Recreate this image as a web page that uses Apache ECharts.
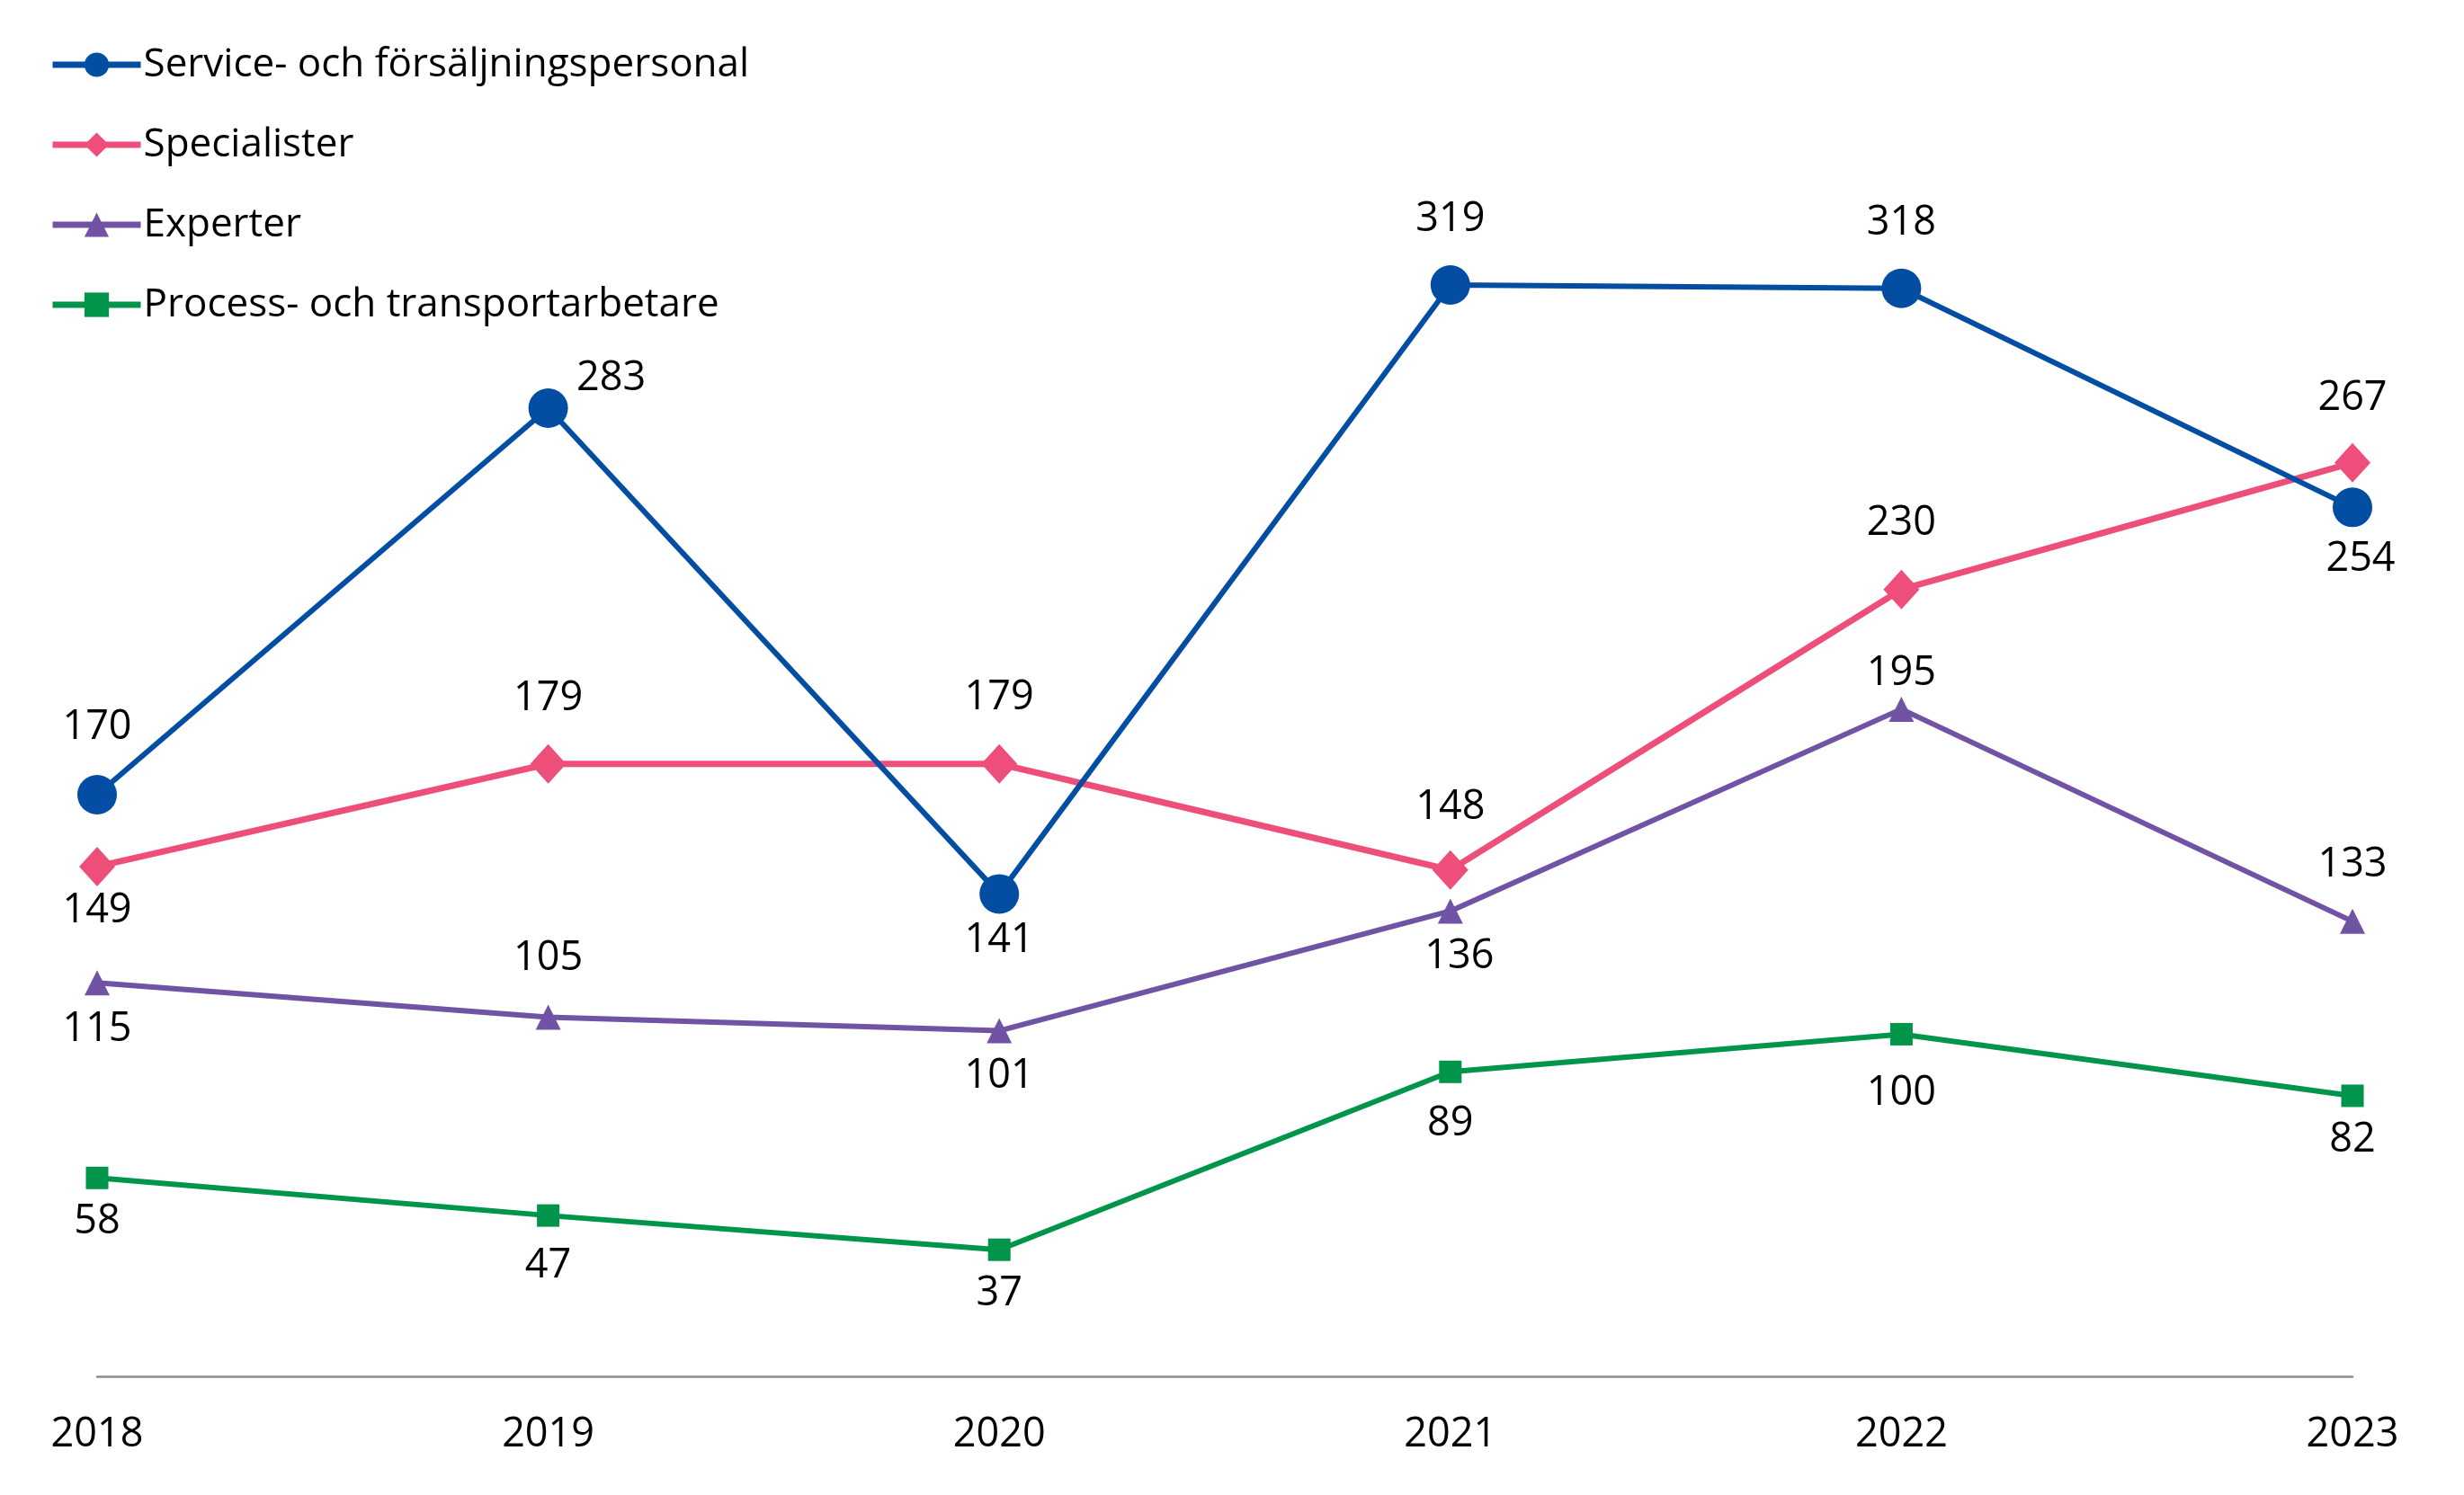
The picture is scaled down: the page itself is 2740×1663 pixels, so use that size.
<!DOCTYPE html>
<html>
<head>
<meta charset="utf-8">
<script src="https://cdn.jsdelivr.net/npm/echarts@6/dist/echarts.min.js"></script>
<style>
html,body{margin:0;padding:0;background:#fff;}
#chart{width:2740px;height:1663px;}
</style>
</head>
<body>
<div id="chart"></div>
<script>
const categories = ['2018', '2019', '2020', '2021', '2022', '2023'];
const seriesNames = ['Service- och försäljningspersonal', 'Specialister', 'Experter', 'Process- och transportarbetare'];
const serviceVals = [170, 283, 141, 319, 318, 254];
const specialistVals = [149, 179, 179, 148, 230, 267];
const expertVals = [115, 105, 101, 136, 195, 133];
const processVals = [58, 47, 37, 89, 100, 82];

// label offsets (px) relative to the marker centre
const labelOffsets = [
  [[0,-75],[70,-33],[0,52],[0,-73],[0,-73],[9,58]],
  [[0,49],[0,-73],[0,-74],[0,-70],[0,-73],[0,-72]],
  [[0,52],[0,-65],[0,51],[10,51],[0,-40],[0,-63]],
  [[0,49],[0,56],[0,49],[0,58],[0,66],[0,49]]
];
const colors = ['#034EA2', '#EE4F7A', '#7153A5', '#00954B'];
const symbols = ['circle', 'diamond', 'triangle', 'rect'];
const symbolSizes = [44, [40, 44], 28, 25];
const lineWidths = [6, 7, 6, 6];
const FONT = "'Open Sans', 'DejaVu Sans', sans-serif";

const allVals = [serviceVals, specialistVals, expertVals, processVals];

const series = allVals.map((vals, i) => ({
  name: seriesNames[i],
  type: 'line',
  data: vals.map((v, j) => ({
    value: v,
    label: { offset: labelOffsets[i][j] }
  })),
  symbol: symbols[i],
  symbolSize: symbolSizes[i],
  showAllSymbol: true,
  lineStyle: { color: colors[i], width: lineWidths[i] },
  itemStyle: { color: colors[i] },
  label: {
    show: true,
    position: 'inside',
    color: '#000',
    fontSize: 45,
    fontFamily: FONT
  },
  emphasis: { disabled: true },
  animation: false,
  z: 10 - i
}));

const chart = echarts.init(document.getElementById('chart'), null, { renderer: 'canvas' });
chart.setOption({
  backgroundColor: '#fff',
  animation: false,
  color: colors,
  legend: {
    orient: 'vertical',
    left: 50,
    top: 45,
    itemWidth: 98,
    itemHeight: 34,
    itemGap: 45,
    lineStyle: { width: 7 },
    textStyle: { fontSize: 44, fontFamily: FONT, color: '#000', padding: [0, 0, 0, -2] },
    data: seriesNames
  },
  grid: { left: 108, right: 124, top: 199, bottom: 132, containLabel: false },
  xAxis: {
    type: 'category',
    data: categories,
    boundaryGap: false,
    axisLine: { lineStyle: { color: '#8C8C8C', width: 2.5 } },
    axisTick: { show: false },
    axisLabel: { fontSize: 45, fontFamily: FONT, color: '#000', margin: 43 },
    splitLine: { show: false }
  },
  yAxis: {
    type: 'value',
    min: 0,
    max: 350,
    interval: 50,
    show: false,
    splitLine: { show: false }
  },
  series: series
});
</script>
</body>
</html>
